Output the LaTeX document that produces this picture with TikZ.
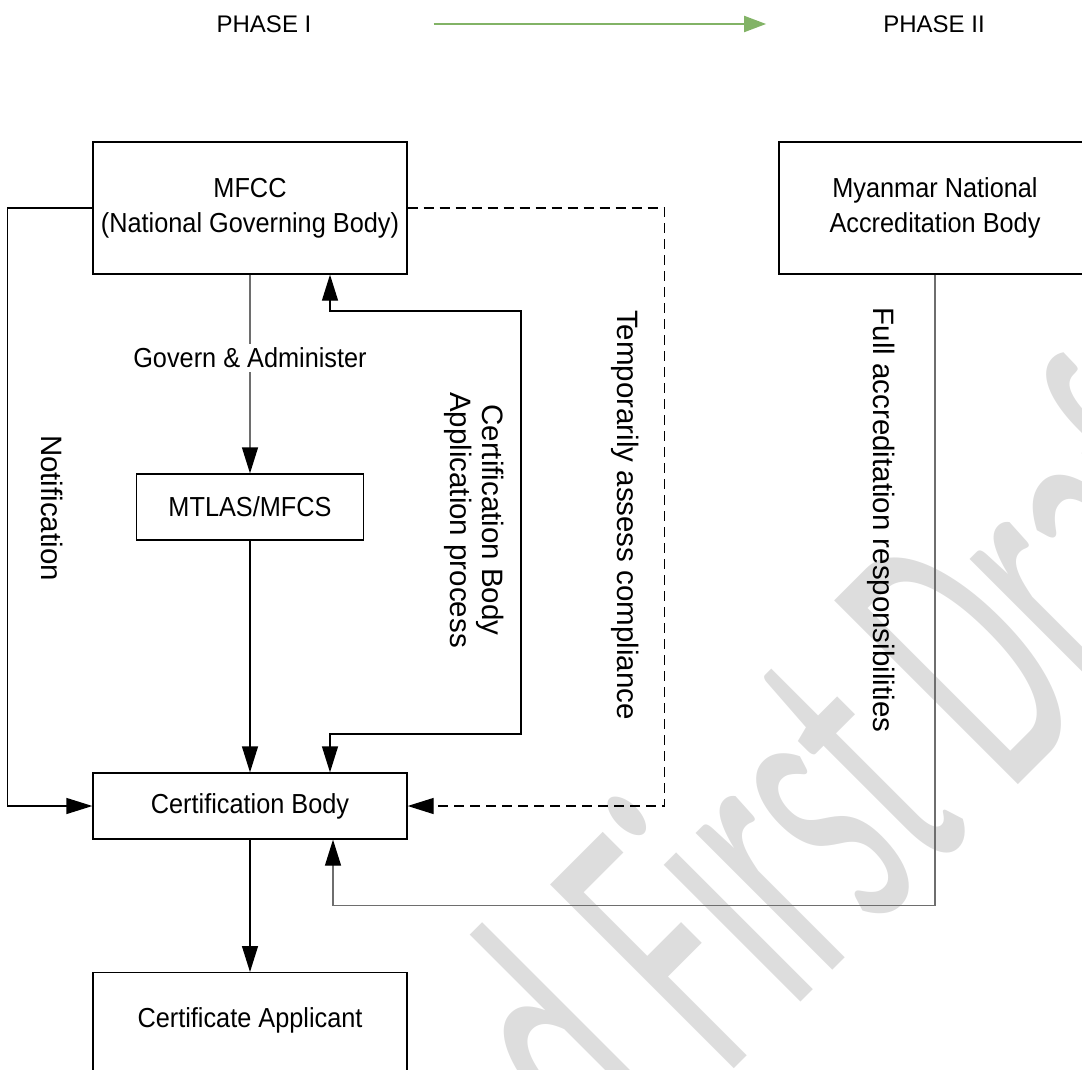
\documentclass[tikz,border=0pt]{standalone}
\usepackage{fontspec}
\setmainfont{Liberation Sans}[FakeStretch=0.92]
\newfontfamily\rotfont{Liberation Sans}
\newfontfamily\wmfont{Carlito}
\usetikzlibrary{arrows.meta}
\definecolor{phasegreen}{RGB}{130,179,102}
\definecolor{wmgray}{RGB}{221,221,221}
\definecolor{linegray}{RGB}{110,110,110}
\tikzset{
  box/.style={draw=black, line width=1.3pt, rectangle, inner sep=0pt, align=center,
    font=\fontsize{27.5}{35}\selectfont},
  conn/.style={line width=1.3pt, -{Triangle[length=26pt,width=16pt,color=black]}},
  conn2/.style={line width=1.3pt, {Triangle[length=26pt,width=16pt]}-{Triangle[length=26pt,width=16pt]}},
  dconn/.style={conn, dash pattern=on 10pt off 6pt},
  vlabel/.style={rotate=-90, align=center, inner sep=0pt,
    font=\rotfont\fontsize{29.5}{32}\selectfont},
  hlabel/.style={fill=white, inner sep=4pt, font=\fontsize{27.5}{35}\selectfont},
  phase/.style={font=\rotfont\fontsize{24}{28}\selectfont, inner sep=0pt},
  wm/.style={font=\wmfont\fontsize{100}{100}\selectfont, text=wmgray, inner sep=0pt,
    cm={1.45,1.45,-2.864,2.864,(0,0)}},
}
\begin{document}
\begin{tikzpicture}[x=1pt,y=-1pt]
\useasboundingbox (0,0) rectangle (1082,1070);
% watermark
\begin{scope}[shift={(615,1188)}]
\node[wm, anchor=base west] (wmark) at (0,0) {d First Draft};
\end{scope}
% phases
\node[phase] (p1) at (264,24) {PHASE I};
\node[phase] (p2) at (934,24) {PHASE II};
\draw[line width=2pt, phasegreen, -{Triangle[length=22pt,width=16pt]},
  shorten <=122pt, shorten >=117pt] (p1.east) -- (p2.west);
% boxes
\node[box, minimum width=314pt, minimum height=132pt] (mfcc) at (250,208)
  {MFCC\\(National Governing Body)};
\node[box, minimum width=312pt, minimum height=132pt] (mnab) at (935,208)
  {Myanmar National\\Accreditation Body};
\node[box, minimum width=227pt, minimum height=66pt] (mtlas) at (250,507) {MTLAS/MFCS};
\node[box, minimum width=314pt, minimum height=66pt] (cb) at (250,806) {Certification Body};
\node[box, minimum width=314pt, anchor=north, text height=55pt, text depth=77pt] (ca)
  at (250,972) {Certificate Applicant};
% helper coordinates
\coordinate (xa) at (330,0);
\coordinate (xb) at (333,0);
% connectors
\draw[conn, draw=linegray] (mfcc.south) -- node[hlabel, pos=0.42] (gov) {Govern \& Administer} (mtlas.north);
\draw[conn] (mtlas.south) -- (cb.north);
\draw[conn] (cb.south) -- (ca.north);
\draw[conn] (mfcc.west) -- ++(-85,0) |- (cb.west);
\draw[dconn] (mfcc.east) -- ++(257,0) |- (cb.east);
\draw[conn2] (cb.north -| xa) |- (521,734) -- (521,311) -| (mfcc.south -| xa);
\draw[conn, draw=linegray] (mnab.south) -- ++(0,631) -| (cb.south -| xb);
% rotated labels
\node[vlabel] (notif) at (52,508) {Notification};
\node[vlabel] (cbap) at (474,520) {Certification Body\\Application process};
\node[vlabel] (temp) at (625,515) {Temporarily assess compliance};
\node[vlabel] (full) at (881,520) {Full accreditation responsibilities};
\end{tikzpicture}
\end{document}
